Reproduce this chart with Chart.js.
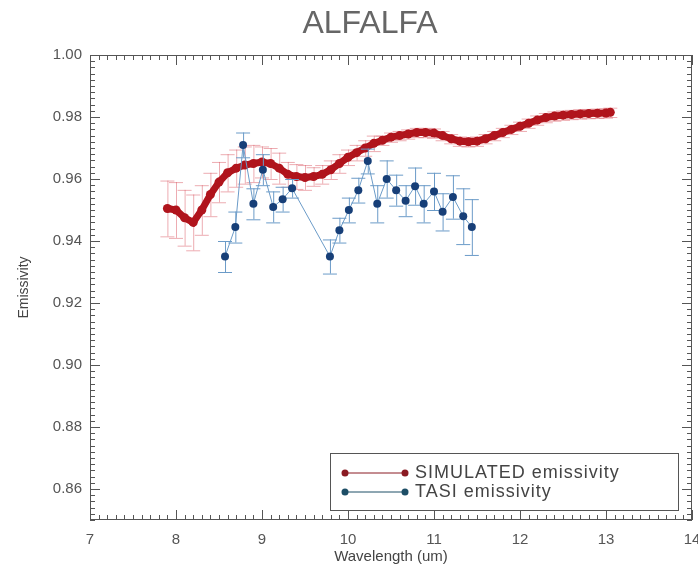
<!DOCTYPE html>
<html>
<head>
<meta charset="utf-8">
<script src="https://cdn.jsdelivr.net/npm/chart.js@4/dist/chart.umd.min.js"></script>
<style>
  body { margin: 0; background: #fff; }
</style>
</head>
<body>
<canvas id="myChart" width="698" height="570"></canvas>
<script>
// SIMULATED emissivity
var simWave = [7.9, 8.0, 8.1, 8.2, 8.3, 8.4, 8.5, 8.6, 8.7, 8.8, 8.9, 9.0, 9.1, 9.2, 9.3, 9.4, 9.5, 9.6, 9.7, 9.8,
  9.9, 10.0, 10.1, 10.2, 10.3, 10.4, 10.5, 10.6, 10.7, 10.8, 10.9, 11.0, 11.1, 11.2, 11.3, 11.4, 11.5, 11.6,
  11.7, 11.8, 11.9, 12.0, 12.1, 12.2, 12.3, 12.4, 12.5, 12.6, 12.7, 12.8, 12.9, 13.0, 13.05];
var simEmis = [0.9505, 0.950, 0.9475, 0.946, 0.950, 0.955, 0.959, 0.962, 0.9635, 0.9645, 0.965, 0.9655, 0.965,
  0.9635, 0.9615, 0.9608, 0.9605, 0.9608, 0.9615, 0.963, 0.965, 0.967, 0.9685, 0.970, 0.9715, 0.9725, 0.9735,
  0.974, 0.9745, 0.975, 0.975, 0.9748, 0.974, 0.973, 0.9722, 0.972, 0.9722, 0.973, 0.974, 0.975, 0.976, 0.977,
  0.978, 0.979, 0.9798, 0.9803, 0.9806, 0.9808, 0.981, 0.9811, 0.9812, 0.9813, 0.9815];
var simErr = [0.009, 0.009, 0.009, 0.009, 0.008, 0.007, 0.0065, 0.006, 0.006, 0.006, 0.006, 0.005, 0.005, 0.005,
  0.004, 0.004, 0.004, 0.003, 0.003, 0.003, 0.003, 0.0025, 0.0025, 0.0025, 0.0025, 0.0015, 0.0015, 0.0015,
  0.0015, 0.0015, 0.0015, 0.0015, 0.0015, 0.0015, 0.0015, 0.0015, 0.0015, 0.0015, 0.0015, 0.0015, 0.0015,
  0.0015, 0.0015, 0.0015, 0.0015, 0.0015, 0.0015, 0.0015, 0.0015, 0.0015, 0.0015, 0.0015, 0.0015];

// TASI emissivity
var tasiWave = [8.57, 8.69, 8.78, 8.90, 9.01, 9.13, 9.24, 9.35, 9.79, 9.90, 10.01, 10.12, 10.23, 10.34, 10.45,
  10.56, 10.67, 10.78, 10.88, 11.00, 11.10, 11.22, 11.34, 11.44];
var tasiEmis = [0.935, 0.9445, 0.971, 0.952, 0.963, 0.951, 0.9535, 0.957, 0.935, 0.9435, 0.950, 0.9564, 0.9658,
  0.952, 0.960, 0.9564, 0.953, 0.9577, 0.952, 0.956, 0.9494, 0.9542, 0.948, 0.9445];
var tasiErr = [0.005, 0.005, 0.004, 0.005, 0.005, 0.005, 0.004, 0.003, 0.0055, 0.004, 0.004, 0.004, 0.004,
  0.006, 0.006, 0.005, 0.005, 0.006, 0.006, 0.006, 0.006, 0.007, 0.009, 0.009];

var yTicks = [0.86, 0.88, 0.90, 0.92, 0.94, 0.96, 0.98, 1.00];
var legendNames = ['SIMULATED emissivity', 'TASI emissivity'];

function pts(xs, ys) {
  var out = [];
  for (var i = 0; i < xs.length; i++) out.push({ x: xs[i], y: ys[i] });
  return out;
}

var errs = [simErr, tasiErr];
var errColor = ['rgba(215, 70, 85, 0.45)', '#6b9bc8'];

// error bars drawn just under each dataset's markers
var errorBars = {
  id: 'errorBars',
  beforeDatasetDraw: function (chart, args) {
    var ctx = chart.ctx;
    var xs = chart.scales.x, ys = chart.scales.y;
    var ds = chart.data.datasets[args.index];
    var e = errs[args.index];
    ctx.save();
    ctx.strokeStyle = errColor[args.index];
    ctx.lineWidth = 1;
    ctx.beginPath();
    for (var i = 0; i < ds.data.length; i++) {
      var px = xs.getPixelForValue(ds.data[i].x);
      var top = ys.getPixelForValue(ds.data[i].y + e[i]);
      var bot = ys.getPixelForValue(ds.data[i].y - e[i]);
      ctx.moveTo(px + 0.5, top); ctx.lineTo(px + 0.5, bot);
      ctx.moveTo(px - 7, top + 0.5); ctx.lineTo(px + 7, top + 0.5);
      ctx.moveTo(px - 7, bot + 0.5); ctx.lineTo(px + 7, bot + 0.5);
    }
    ctx.stroke();
    ctx.restore();
  }
};

// IDL style frame, inward ticks on all four sides, title and legend
var frame = {
  id: 'frame',
  afterDraw: function (chart) {
    var ctx = chart.ctx, a = chart.chartArea;
    var xs = chart.scales.x, ys = chart.scales.y;
    ctx.save();
    ctx.strokeStyle = '#555';
    ctx.lineWidth = 1;
    ctx.strokeRect(a.left + 0.5, a.top + 0.5, a.right - a.left - 1, a.bottom - a.top - 1);
    ctx.beginPath();
    for (var i = 70; i <= 140; i++) {
      var px = Math.round(xs.getPixelForValue(i / 10)) + 0.5;
      var len = (i % 10 === 0) ? 10 : 5;
      ctx.moveTo(px, a.bottom); ctx.lineTo(px, a.bottom - len);
      ctx.moveTo(px, a.top); ctx.lineTo(px, a.top + len);
    }
    for (var j = 425; j <= 500; j++) {
      var py = Math.round(ys.getPixelForValue(j / 500)) + 0.5;
      var l2 = (j % 10 === 0) ? 10 : 5;
      ctx.moveTo(a.left, py); ctx.lineTo(a.left + l2, py);
      ctx.moveTo(a.right, py); ctx.lineTo(a.right - l2, py);
    }
    ctx.stroke();

    // title
    ctx.fillStyle = '#666';
    ctx.font = '32px "Liberation Sans"';
    ctx.textAlign = 'center';
    ctx.textBaseline = 'middle';
    ctx.fillText('ALFALFA', 370, 24);

    // legend
    var bx = a.right - 362, by = a.bottom - 67, bw = 348, bh = 57;
    ctx.fillStyle = '#fff';
    ctx.fillRect(bx, by, bw, bh);
    ctx.strokeStyle = '#555';
    ctx.strokeRect(bx + 0.5, by + 0.5, bw, bh);
    var lineCol = ['#8a1a22', '#1d4e66'];
    ctx.font = '18px "Liberation Sans"';
    ctx.letterSpacing = '1px';
    ctx.textAlign = 'left';
    for (var k = 0; k < 2; k++) {
      var ly = by + 20 + k * 19;
      ctx.strokeStyle = lineCol[k];
      ctx.beginPath();
      ctx.moveTo(bx + 15, ly); ctx.lineTo(bx + 75, ly);
      ctx.stroke();
      ctx.fillStyle = lineCol[k];
      ctx.beginPath(); ctx.arc(bx + 15, ly, 3.5, 0, Math.PI * 2); ctx.fill();
      ctx.beginPath(); ctx.arc(bx + 75, ly, 3.5, 0, Math.PI * 2); ctx.fill();
      ctx.fillStyle = '#444';
      ctx.fillText(legendNames[k], bx + 85, ly);
    }
    ctx.restore();
  }
};

var ctx = document.getElementById('myChart');
var myChart = new Chart(ctx, {
  type: 'line',
  data: {
    datasets: [{
      label: legendNames[0],
      data: pts(simWave, simEmis),
      borderColor: '#b0141c',
      backgroundColor: '#b0141c',
      borderWidth: 7,
      pointRadius: 4.5,
      pointBorderWidth: 0,
      order: 1
    }, {
      label: legendNames[1],
      data: pts(tasiWave, tasiEmis),
      borderColor: '#6b9bc8',
      backgroundColor: '#173f78',
      borderWidth: 1,
      pointRadius: 4,
      pointBorderWidth: 0,
      order: 0
    }]
  },
  options: {
    responsive: false,
    animation: false,
    devicePixelRatio: 1,
    layout: { padding: { top: 55, right: 6, left: 0, bottom: 0 } },
    plugins: {
      legend: { display: false },
      tooltip: { enabled: false }
    },
    scales: {
      x: {
        type: 'linear',
        min: 7,
        max: 14,
        ticks: { stepSize: 1, color: '#555', font: { family: 'Liberation Sans', size: 15 }, padding: 11, maxRotation: 0 },
        grid: { display: false, drawTicks: false },
        border: { display: false },
        title: { display: true, text: 'Wavelength (um)', color: '#444', font: { family: 'Liberation Sans', size: 15 }, padding: { top: 0, bottom: 4 } },
        afterFit: function (scale) {
          scale.height = 50;
          scale.paddingRight = 0;
        }
      },
      y: {
        min: 0.85,
        max: 1.0,
        afterBuildTicks: function (scale) {
          scale.ticks = yTicks.map(function (v) { return { value: v }; });
        },
        ticks: {
          color: '#555',
          font: { family: 'Liberation Sans', size: 15 },
          padding: 8,
          callback: function (v) { return v.toFixed(2); }
        },
        grid: { display: false, drawTicks: false },
        border: { display: false },
        title: { display: true, text: 'Emissivity', color: '#444', font: { family: 'Liberation Sans', size: 14 }, padding: { top: 16, bottom: 0 } },
        afterFit: function (scale) { scale.width = 90; }
      }
    }
  },
  plugins: [errorBars, frame]
});
</script>
</body>
</html>
